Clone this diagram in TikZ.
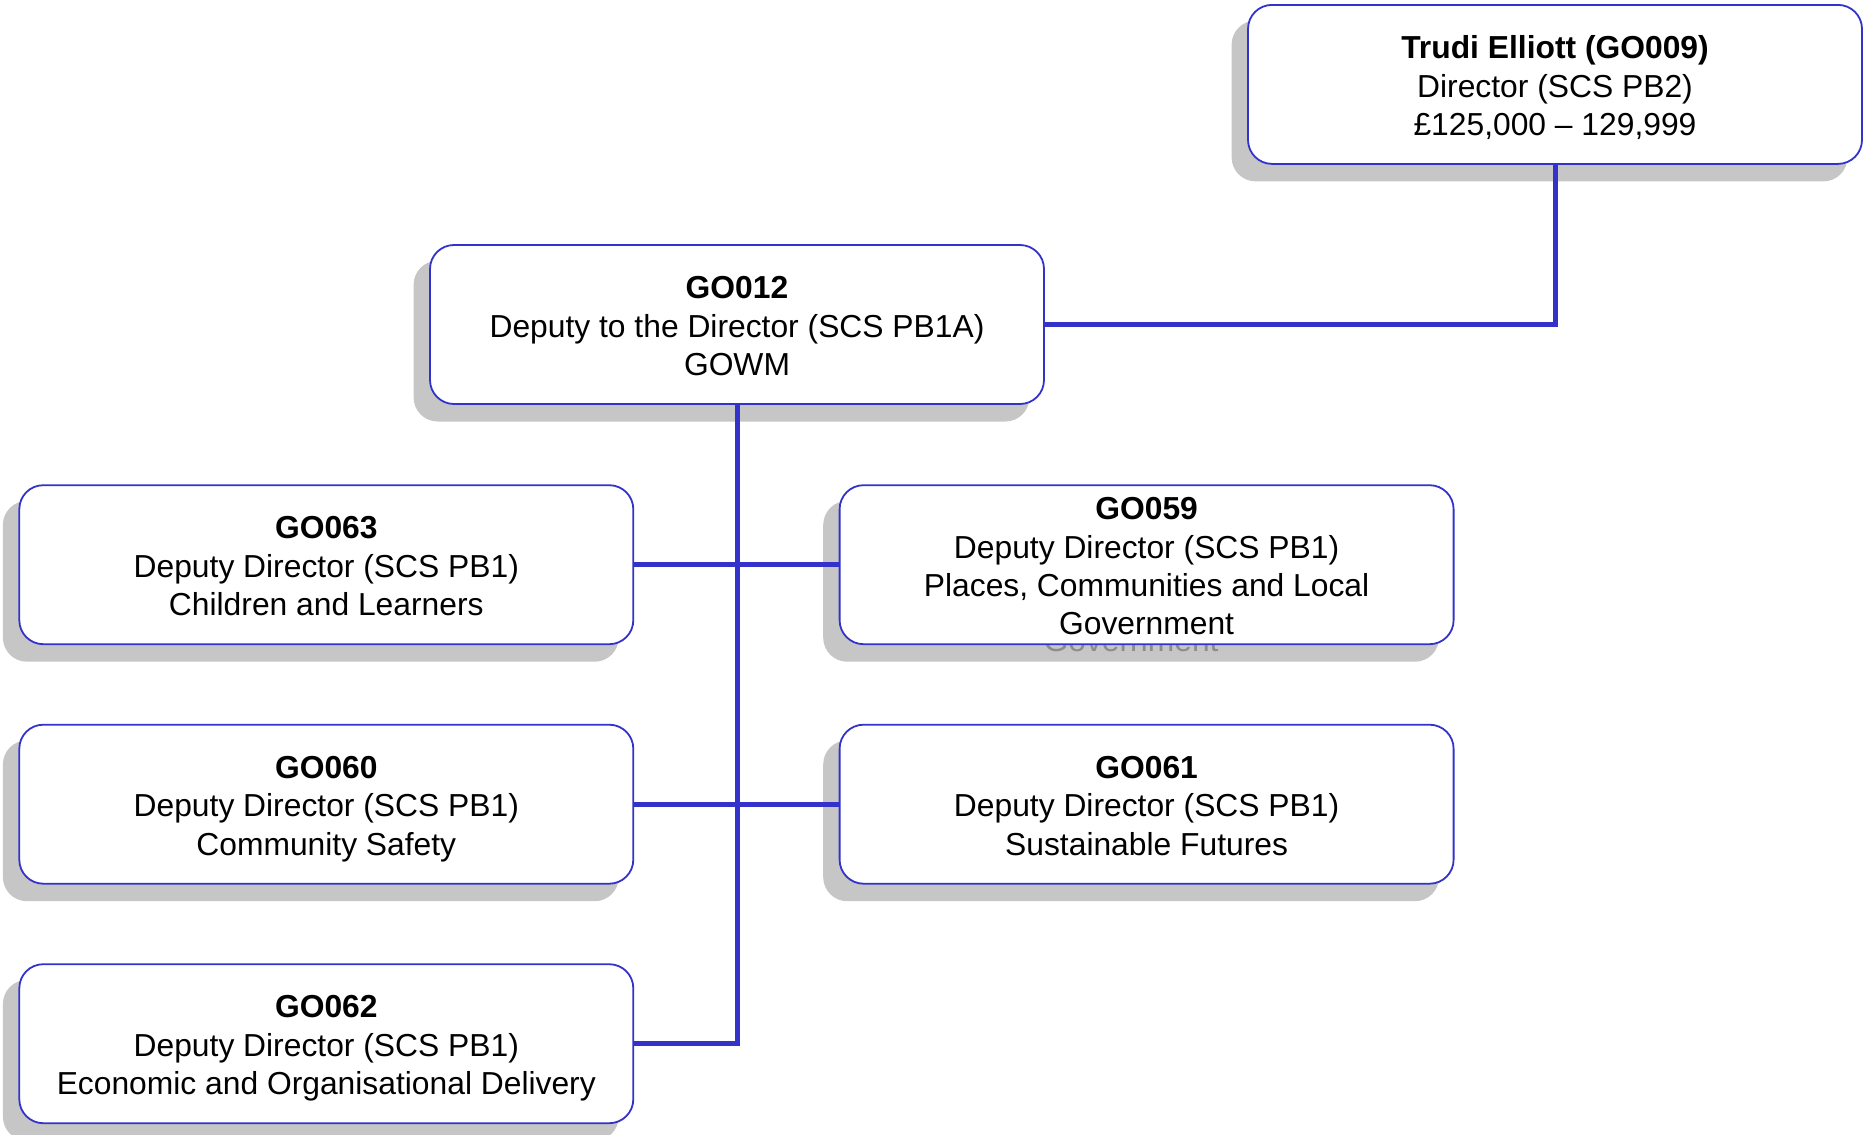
\documentclass[tikz,border=0pt]{standalone}
\usepackage{fontspec}
\setmainfont{Liberation Sans}
\definecolor{bl}{RGB}{51,51,204}
\definecolor{shd}{RGB}{198,198,198}
\pgfdeclarelayer{bg}
\pgfsetlayers{bg,main}
\begin{document}
\begin{tikzpicture}[x=1pt,y=-1pt,
  box/.style={draw=bl, line width=1.8pt, rounded corners=24, fill=white,
    minimum width=614, minimum height=159, inner sep=0},
  lbl/.style={inner sep=0, align=center, yshift=-5pt,
    font=\fontsize{31.8}{38.4}\selectfont},
  ghost/.style={lbl, text=black!45},
  conn/.style={draw=bl, line width=5pt}]
\useasboundingbox (0,0) rectangle (1864,1135);
\node[box] (top) at (1555,84.4) {};
\node[box] (g012) at (737,324.5) {};
\node[box] (g063) at (326.3,564.7) {};
\node[box] (g059) at (1146.6,564.7) {};
\node[box] (g060) at (326.3,804.2) {};
\node[box] (g061) at (1146.6,804.2) {};
\node[box] (g062) at (326.3,1043.7) {};
\node[lbl] (ttop) at (top.center) {\strut\textbf{Trudi Elliott (GO009)}\\Director (SCS PB2)\\£125,000 – 129,999\strut};
\node[lbl] (t012) at (g012.center) {\strut\textbf{GO012}\\Deputy to the Director (SCS PB1A)\\GOWM\strut};
\node[lbl] (t063) at (g063.center) {\strut\textbf{GO063}\\Deputy Director (SCS PB1)\\Children and Learners\strut};
\node[lbl] (t059) at (g059.center) {\strut\textbf{GO059}\\Deputy Director (SCS PB1)\\Places, Communities and Local\\Government\strut};
\node[lbl] (t060) at (g060.center) {\strut\textbf{GO060}\\Deputy Director (SCS PB1)\\Community Safety\strut};
\node[lbl] (t061) at (g061.center) {\strut\textbf{GO061}\\Deputy Director (SCS PB1)\\Sustainable Futures\strut};
\node[lbl] (t062) at (g062.center) {\strut\textbf{GO062}\\Deputy Director (SCS PB1)\\Economic and Organisational Delivery\strut};
\begin{pgfonlayer}{bg}
\foreach \n in {top,g012,g063,g059,g060,g061,g062}
  \fill[shd, rounded corners=24] ([shift={(-15.5,16.6)}]\n.south west) rectangle ([shift={(-15.5,16.6)}]\n.north east);
\node[ghost] (gh) at ([shift={(-15.5,16.6)}]g059.center) {\strut\phantom{\textbf{GO059}}\\\phantom{Deputy Director (SCS PB1)}\\\phantom{Places, Communities and Local}\\Government\strut};
\end{pgfonlayer}
\draw[conn] (g012.east) -| (top.south);
\draw[conn] (g012.south) -- (g012.south |- g062.east) -- (g062.east);
\draw[conn] (g063.east) -- (g059.west);
\draw[conn] (g060.east) -- (g061.west);
\end{tikzpicture}
\end{document}
